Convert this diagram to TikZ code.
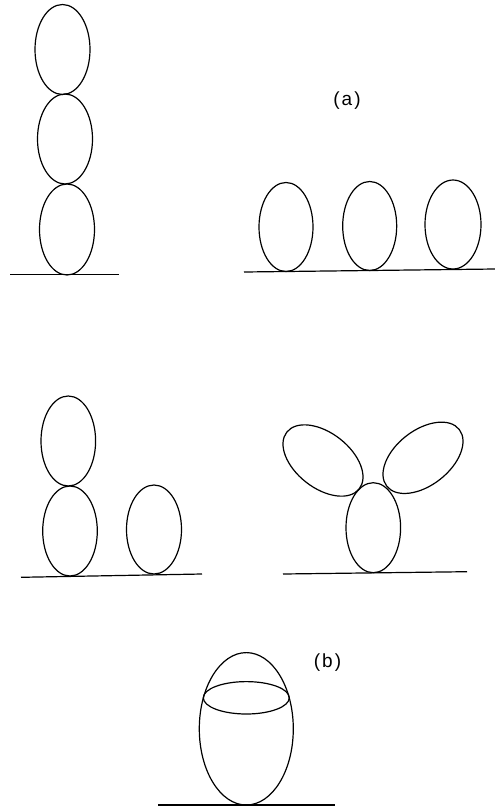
\documentclass[tikz,border=0pt]{standalone}
\usepackage{fontspec}
\setmainfont{Liberation Sans}
\usetikzlibrary{shapes.geometric}
\begin{document}
\begin{tikzpicture}[x=1pt,y=-1pt,
  egg/.style={draw, ellipse, inner sep=0pt, outer sep=0pt, line width=1.2pt,
    minimum width=55pt, minimum height=90pt},
  ground/.style={line width=1.2pt},
  lbl/.style={font=\fontsize{19}{19}\selectfont, inner sep=0pt}]
\useasboundingbox (0,0) rectangle (495,807);
% (a) left column
\node[egg] (a1) at (62.5,49.5) {};
\node[egg] (a2) at (65,139) {};
\node[egg, minimum height=91pt] (a3) at (67,229.5) {};
\coordinate (g1l) at (10,274.5);
\coordinate (g1r) at (119,274.5);
\draw[ground] (g1l) -- (g1r);
% (a) right row
\node[egg, minimum width=54pt, minimum height=89pt] (b1) at (286,227) {};
\node[egg, minimum width=54pt, minimum height=89pt] (b2) at (369.7,226) {};
\node[egg, minimum width=56pt, minimum height=89pt] (b3) at (453,224.5) {};
\coordinate (g2l) at (244,272);
\coordinate (g2r) at (495,269);
\draw[ground] (g2l) -- (g2r);
\node[lbl] (la) at (347,101) {(\hspace{2pt}a\hspace{2pt})};
% (b) left
\node[egg, minimum width=54.6pt] (c1) at (68.3,441) {};
\node[egg, minimum width=54.6pt] (c2) at (70,531) {};
\node[egg, minimum height=89pt] (c3) at (154,529.5) {};
\coordinate (g3l) at (21,577.3);
\coordinate (g3r) at (202,574);
\draw[ground] (g3l) -- (g3r);
% (b) right
\node[egg, minimum width=54.6pt] (d1) at (373.3,527.7) {};
\node[egg, minimum width=92pt, minimum height=55pt, rotate=-38] (d2) at (323,460.5) {};
\node[egg, minimum width=92pt, minimum height=55pt, rotate=38] (d3) at (423,457.8) {};
\coordinate (g4l) at (283,574);
\coordinate (g4r) at (467,571.7);
\draw[ground] (g4l) -- (g4r);
% (b) bottom
\node[egg, minimum width=94pt, minimum height=152.4pt] (e1) at (246.3,728.8) {};
\node[egg, minimum width=86pt, minimum height=32.4pt] (e2) at (246.3,697.8) {};
\coordinate (g5l) at (158,805);
\coordinate (g5r) at (335,805);
\draw[ground] (g5l) -- (g5r);
\node[lbl] (lb) at (327.5,663) {(\hspace{2pt}b\hspace{2pt})};
\end{tikzpicture}
\end{document}
